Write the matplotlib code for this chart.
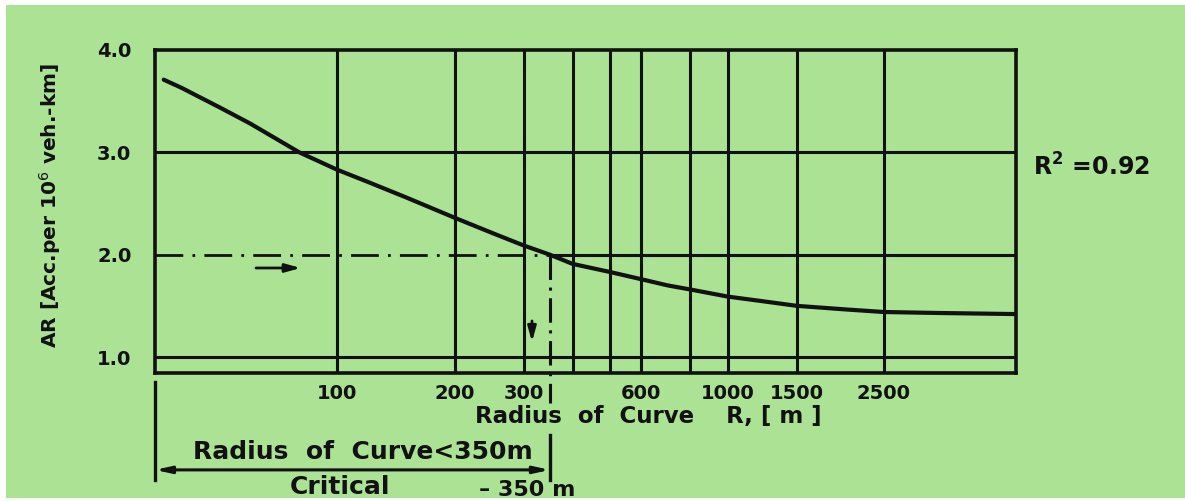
import matplotlib
matplotlib.use("Agg")
import matplotlib.pyplot as plt
from matplotlib.patches import Rectangle
from matplotlib.ticker import FixedLocator, NullLocator

# accident rate against curve radius
radius = [36, 40, 50, 60, 70, 80, 100, 120, 150, 200, 250, 300, 350, 400, 500, 600,
          700, 800, 1000, 1200, 1500, 2000, 2500, 3500, 5400]
acc_rate = [3.71, 3.63, 3.44, 3.28, 3.13, 3.00, 2.83, 2.71, 2.56, 2.36, 2.21, 2.09,
            2.00, 1.91, 1.83, 1.76, 1.70, 1.66, 1.59, 1.55, 1.50, 1.465, 1.44, 1.43, 1.42]

grid_radius = [100, 200, 300, 400, 500, 600, 800, 1000, 1500, 2500]
tick_radius = [100, 200, 300, 600, 1000, 1500, 2500]
tick_labels = ["100", "200", "300", "600", "1000", "1500", "2500"]
y_ticks = [1.0, 2.0, 3.0, 4.0]
y_labels = ["1.0", "2.0", "3.0", "4.0"]

critical_radius = 350
critical_rate = 2.0
r_squared = 0.92

bg = "#abe293"
ink = "#111111"
dashdot = (0, (10, 3.3, 1, 3.3))

fig = plt.figure(figsize=(11.85, 5.01), dpi=100)
fig.patch.set_facecolor("white")
fig.patches.append(Rectangle((6 / 1185, 3 / 501), 1 - 6 / 1185, 1 - 8 / 501,
                             transform=fig.transFigure, facecolor=bg,
                             edgecolor="none", zorder=-10))

ax = fig.add_axes([0.1308, 0.2555, 0.7266, 0.6447])
ax.set_facecolor(bg)
ax.set_xscale("log")
ax.set_xlim(34.2, 5450)
ax.set_ylim(0.844, 4.0)

# grid
for r in grid_radius:
    ax.axvline(r, color=ink, lw=2.2, zorder=2)
for v in [1.0, 3.0]:
    ax.axhline(v, color=ink, lw=2.2, zorder=2)
ax.plot([ax.get_xlim()[0], critical_radius], [critical_rate, critical_rate],
        color=ink, lw=2, linestyle=dashdot, zorder=2)
ax.plot([critical_radius, ax.get_xlim()[1]], [critical_rate, critical_rate],
        color=ink, lw=2.2, zorder=2)

# critical radius marker, running below the axis
xt = ax.get_xaxis_transform()
y_top = (critical_rate - 0.844) / (4.0 - 0.844)
ax.plot([critical_radius, critical_radius], [y_top, -0.093], transform=xt,
        color=ink, lw=2.2, linestyle=(0, (8, 2.5, 1, 2.5)), clip_on=False, zorder=2)

ax.plot(radius, acc_rate, color=ink, lw=3, zorder=3, solid_capstyle="round",
        solid_joinstyle="round")

# arrows pointing at the 2.0 rate and down to the radius
ax.annotate("", xy=(82, 1.87), xytext=(61, 1.87),
            arrowprops=dict(arrowstyle="-|>,head_length=0.9,head_width=0.25",
                            color=ink, lw=2))
ax.annotate("", xy=(315, 1.12), xytext=(315, 1.38),
            arrowprops=dict(arrowstyle="-|>,head_length=0.9,head_width=0.25",
                            color=ink, lw=2))

for s in ax.spines.values():
    s.set_linewidth(2.6)
    s.set_color(ink)

ax.xaxis.set_major_locator(FixedLocator(tick_radius))
ax.xaxis.set_minor_locator(NullLocator())
ax.set_xticklabels(tick_labels)
ax.set_yticks(y_ticks)
ax.set_yticklabels(y_labels)
ax.tick_params(axis="both", length=0, labelsize=14, colors=ink)
ax.tick_params(axis="x", pad=8)
ax.tick_params(axis="y", pad=17)
for lab in ax.get_xticklabels() + ax.get_yticklabels():
    lab.set_fontweight("bold")

ax.text(0.573, -0.136, "Radius  of  Curve    R, [ m ]", transform=ax.transAxes,
        ha="center", va="center", fontsize=16.5, fontweight="bold", color=ink)
ax.text(-0.122, 0.52, "AR [Acc.per 10$^6$ veh.-km]", transform=ax.transAxes,
        rotation=90, ha="center", va="center", fontsize=14.5, fontweight="bold",
        color=ink)
ax.text(1.020, 0.638, "R$^{\\mathbf{2}}$ =%.2f" % r_squared, transform=ax.transAxes,
        ha="left", va="center", fontsize=17, fontweight="bold", color=ink)

# bracket marking the critical range
ax.plot([0, 0], [-0.028, -0.331], transform=ax.transAxes, color=ink, lw=2.4,
        clip_on=False)
ax.plot([critical_radius, critical_radius], [-0.192, -0.331], transform=xt,
        color=ink, lw=2.4, clip_on=False)
ax.annotate("", xy=(ax.get_xlim()[0], -0.300), xytext=(critical_radius, -0.300),
            xycoords=xt, textcoords=xt,
            arrowprops=dict(arrowstyle="<|-|>,head_length=0.9,head_width=0.2",
                            color=ink, lw=2.2, shrinkA=0, shrinkB=0))
ax.text(0.242, -0.245, "Radius  of  Curve<%dm" % critical_radius, transform=ax.transAxes,
        ha="center", va="center", fontsize=18, fontweight="bold", color=ink)
ax.text(0.215, -0.352, "Critical", transform=ax.transAxes,
        ha="center", va="center", fontsize=18, fontweight="bold", color=ink)
ax.text(0.432, -0.363, "\u2013 %d m" % critical_radius, transform=ax.transAxes,
        ha="center", va="center", fontsize=16, fontweight="bold", color=ink)

fig.savefig("out.png", dpi=100, facecolor=fig.get_facecolor())
